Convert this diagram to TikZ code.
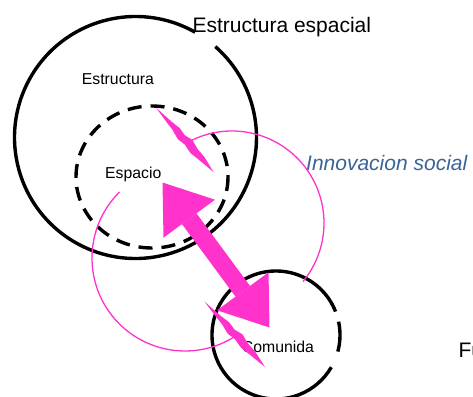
\documentclass[tikz,border=0pt]{standalone}
\usepackage{fontspec}
\setmainfont{Liberation Sans}
\usetikzlibrary{arrows.meta, calc}
\definecolor{rosa}{RGB}{255,51,204}
\definecolor{azul}{RGB}{58,100,150}
% jagged spindle between two points
\newcommand{\bolt}[2]{%
  \fill[rosa] (#1)
    -- ($(#1)!.12!(#2)!1pt!90:(#2)$)
    -- ($(#1)!.25!(#2)!2.3pt!90:(#2)$)
    -- ($(#1)!.36!(#2)!4pt!90:(#2)$)
    -- ($(#1)!.46!(#2)!3pt!90:(#2)$)
    -- ($(#1)!.56!(#2)!5.6pt!90:(#2)$)
    -- ($(#1)!.68!(#2)!3.4pt!90:(#2)$)
    -- ($(#1)!.8!(#2)!3.2pt!90:(#2)$)
    -- ($(#1)!.92!(#2)!1.3pt!90:(#2)$)
    -- (#2)
    -- ($(#1)!.9!(#2)!1.3pt!-90:(#2)$)
    -- ($(#1)!.78!(#2)!2.8pt!-90:(#2)$)
    -- ($(#1)!.66!(#2)!4.6pt!-90:(#2)$)
    -- ($(#1)!.54!(#2)!3.2pt!-90:(#2)$)
    -- ($(#1)!.44!(#2)!4.8pt!-90:(#2)$)
    -- ($(#1)!.32!(#2)!2.5pt!-90:(#2)$)
    -- ($(#1)!.2!(#2)!1.8pt!-90:(#2)$)
    -- ($(#1)!.08!(#2)!.8pt!-90:(#2)$)
    -- cycle;}

\begin{document}
\begin{tikzpicture}[x=1pt, y=-1pt,
    circulo/.style={line width=3.4pt},
    punteado/.style={line width=3.4pt, dash pattern=on 14pt off 9pt},
    giro/.style={rosa, line width=1.3pt},
    etiqueta/.style={inner sep=0pt, anchor=base west, font=\fontsize{15.8}{18}\selectfont},
    titulo/.style={etiqueta, font=\fontsize{21}{24}\selectfont}]
    \clip (0,0) rectangle (473,396);

    \coordinate (cEst) at (135.5,137.5);
    \coordinate (cEsp) at (152,177);
    \coordinate (cCom) at (276,335);

    % circles
    \draw[circulo] ($(cEst)+(60.5:121pt)$) arc[start angle=60.5, end angle=408.7, radius=121pt];
    \draw[punteado] (cEsp) ellipse [x radius=76, y radius=71];
    \draw[circulo] ($(cCom)+(21.5:64pt)$) arc[start angle=21.5, end angle=329.8, radius=64pt];
    \draw[circulo] ($(cCom)+(-15:64pt)$) arc[start angle=-15, end angle=12, radius=64pt];

    % labels
    \node[titulo] (titulo) at (192.3,32.3) {Estructura espacial};
    \node[etiqueta] (estructura) at (81.7,84.3) {Estructura};
    \node[etiqueta] (espacio) at (105,178.3) {Espacio};
    \node[etiqueta] (comunidad) at (241.7,352.3) {Comunida};
    \node[titulo, text=azul, font=\fontsize{21}{24}\selectfont\itshape] (innovacion) at (306,170.7) {Innovacion social};
    \node[titulo] (fu) at (458.3,357.3) {Fu};

    % social innovation loops
    \coordinate (cG1) at (232,223);
    \coordinate (cG2) at (185,258);
    \draw[giro] ($(cG1)+(118.7:92pt)$) arc[start angle=118.7, end angle=-39.5, radius=92pt];
    \draw[giro] ($(cG2)+(134.7:93pt)$) arc[start angle=134.7, end angle=302.7, radius=93pt];
    \coordinate (b1a) at (156,107.5);
    \coordinate (b1b) at (213.5,172);
    \coordinate (b2a) at (204.5,301.5);
    \coordinate (b2b) at (265,367);
    \bolt{b1a}{b1b}
    \bolt{b2a}{b2b}

    % big double arrow
    \coordinate (tipA) at (162.5,182.5);
    \coordinate (tipB) at (269.5,327.5);
    \draw[rosa, line width=18pt,
      {Triangle[length=45pt, width=64pt, line width=0pt]}-{Triangle[length=45pt, width=64pt, line width=0pt]}]
      (tipA) -- (tipB);
\end{tikzpicture}
\end{document}
